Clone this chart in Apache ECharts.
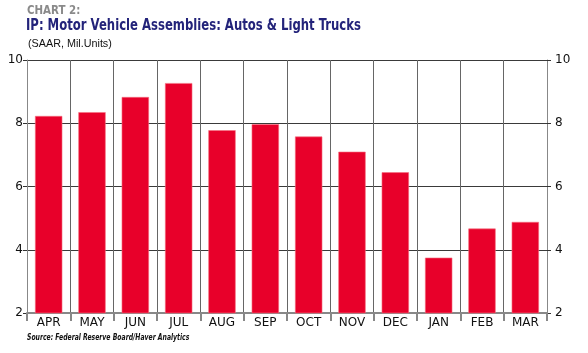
<!DOCTYPE html>
<html>
<head>
<meta charset="utf-8">
<script src="https://cdn.jsdelivr.net/npm/echarts@6/dist/echarts.min.js"></script>
<style>
  html, body { margin: 0; padding: 0; background: #fff; }
  #chart { width: 588px; height: 353px; }
</style>
</head>
<body>
<div id="chart"></div>
<script>
// months on the x axis
const months = ["APR", "MAY", "JUN", "JUL", "AUG", "SEP", "OCT", "NOV", "DEC", "JAN", "FEB", "MAR"];
// assemblies, SAAR, mil. units
const assemblies = [8.23, 8.35, 8.83, 9.27, 7.78, 7.97, 7.58, 7.10, 6.45, 3.75, 4.67, 4.88];
// value axis ticks
const yTicks = [2, 4, 6, 8, 10];

const cond = '"DejaVu Sans Condensed", "Liberation Sans Narrow", Arial, sans-serif';

// 两侧的y轴设置相同
function valueAxis(pos) {
    return {
        type: "value",
        position: pos,
        min: yTicks[0],
        max: yTicks[yTicks.length - 1],
        interval: 2,
        axisLine: { show: true, lineStyle: { color: "#888", width: 1 } },
        axisTick: { show: true, length: 4, lineStyle: { color: "#333" } },
        axisLabel: { color: "#111", fontSize: 12, fontFamily: "DejaVu Sans, sans-serif", margin: pos === "left" ? 4 : 8 },
        splitLine: { show: pos === "left", lineStyle: { color: "#3a3a3a", width: 1 } }
    };
}

// 标题文字用graphic画，可以横向压缩
function label(text, x, y, font, color, sx) {
    return {
        type: "text",
        left: x,
        top: y,
        scaleX: sx || 1,
        style: { text: text, font: font, fill: color }
    };
}

const chart = echarts.init(document.getElementById("chart"));
chart.setOption({
    animation: false,
    backgroundColor: "#fff",
    graphic: [
        label("CHART 2:", 27, 5, "bold 12px " + cond, "#8a8a8a", 0.95),
        label("IP: Motor Vehicle Assemblies: Autos & Light Trucks", 26, 18, "bold 16px " + cond, "#23237a", 0.81),
        label("(SAAR, Mil.Units)", 28, 38, "11px Liberation Sans, Arial, sans-serif", "#111", 0.98),
        label("Source: Federal Reserve Board/Haver Analytics", 27, 334, "italic bold 8px " + cond, "#111", 0.85)
    ],
    grid: { left: 27, right: 41, top: 60, bottom: 40, containLabel: false },
    xAxis: {
        type: "category",
        data: months,
        axisLine: { show: true, lineStyle: { color: "#888", width: 2 } },
        axisTick: { show: true, length: 8, lineStyle: { color: "#888", width: 2 } },
        axisLabel: { color: "#111", fontSize: 12, fontFamily: "DejaVu Sans, sans-serif", margin: 4 },
        splitLine: { show: true, lineStyle: { color: "#666", width: 1 } }
    },
    yAxis: [valueAxis("left"), valueAxis("right")],
    series: [{
        type: "bar",
        data: assemblies,
        barCategoryGap: "37%",
        itemStyle: { color: "#e8002a", borderColor: "#f5707f", borderWidth: 0.6 }
    }]
});
</script>
</body>
</html>
